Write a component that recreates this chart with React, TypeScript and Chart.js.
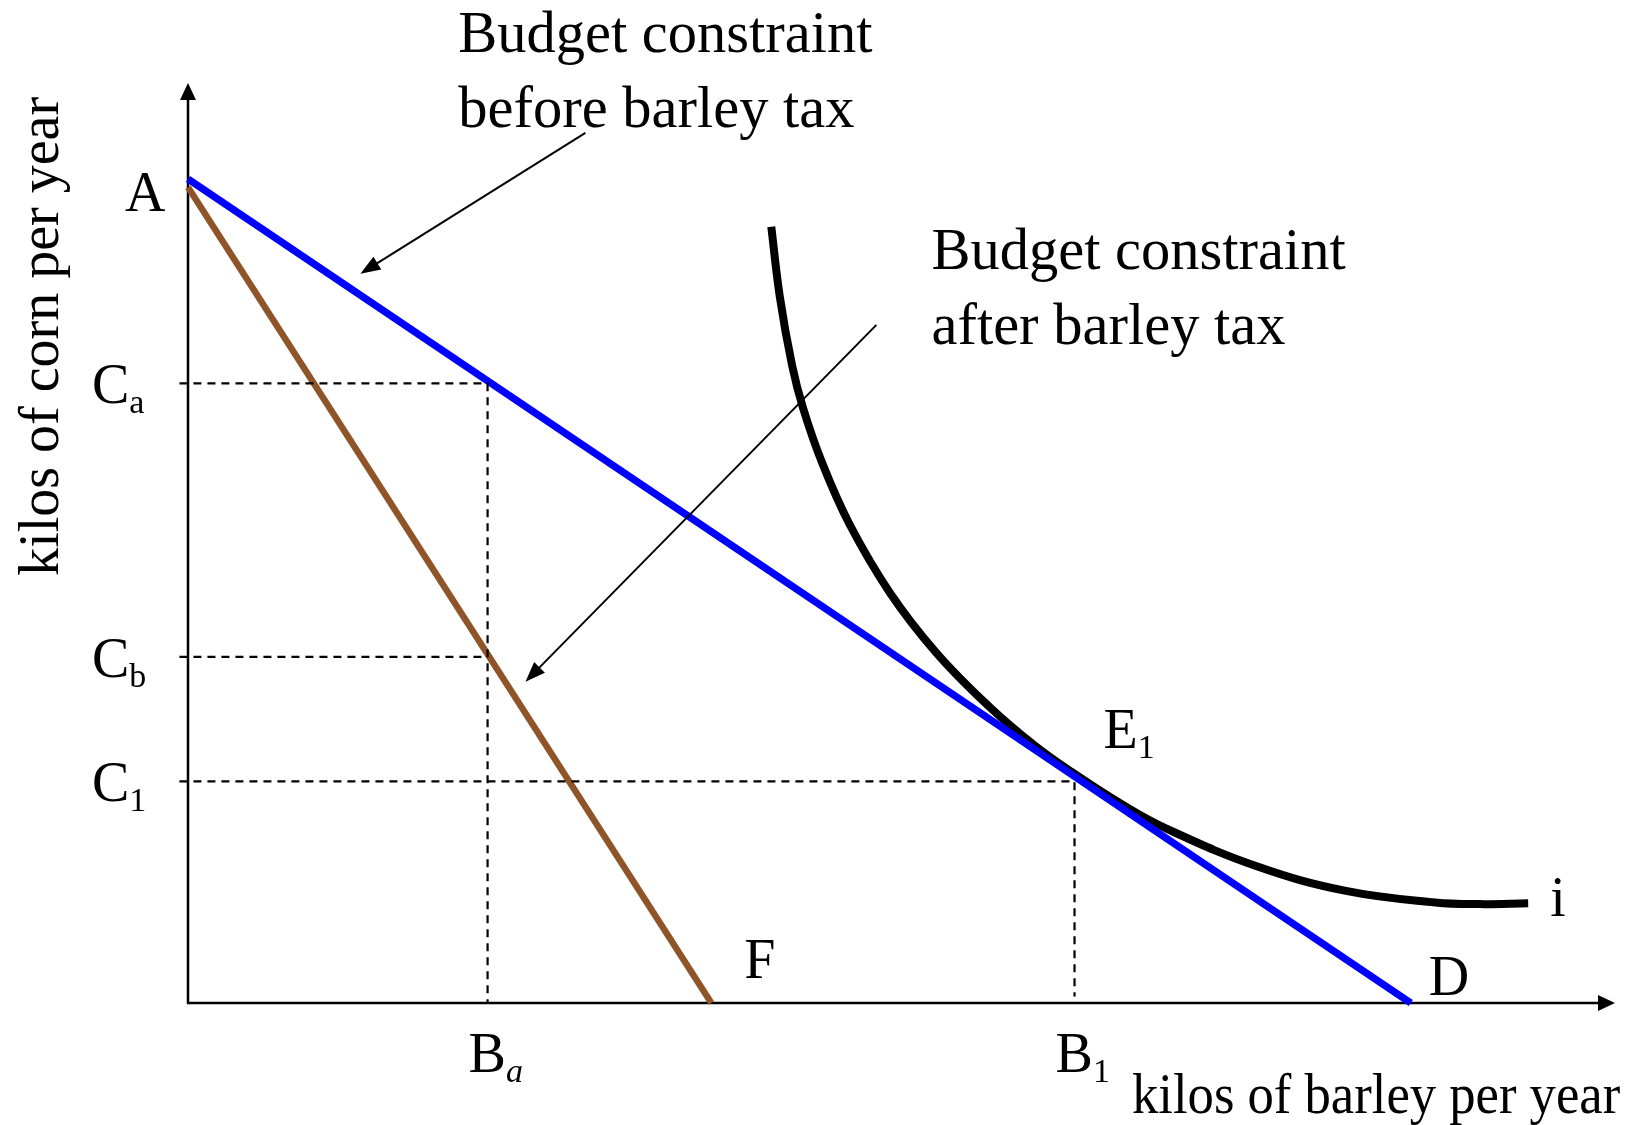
import React, { useEffect, useRef } from 'react';
import { Chart, registerables } from 'chart.js';

Chart.register(...registerables);

// ---- data (kilos of barley on x, kilos of corn on y; A and D normalised to 100) ----
const budgetBeforeX = [0, 100];
const budgetBeforeY = [100, 0];
const budgetAfterX = [0, 42.8];
const budgetAfterY = [99, 0];
const curveX = [47.7, 48.4, 49.4, 50.3, 51.9, 54.1, 57.4, 61.2, 65.5, 69.2, 72.5, 76.5, 80.1, 87.4, 94.7, 102.0, 105.6, 109.6];
const curveY = [94.2, 85.7, 77.4, 72.2, 65.4, 58.1, 49.8, 42.5, 36.0, 31.3, 27.8, 24.0, 21.1, 16.6, 13.6, 12.2, 12.0, 12.1];

const cornTickMain = ['C', 'C', 'C'];
const cornTickSub = ['a', 'b', '1'];
const cornTickValues = [75.2, 42.0, 26.9];
const barleyTickMain = ['B', 'B'];
const barleyTickSub = ['a', '1'];
const barleyTickValues = [24.5, 72.5];

const X_MAX = 116.7;
const Y_MAX = 111.65;

const SERIF = '"Liberation Serif", "Times New Roman", serif';

function pts(xs: number[], ys: number[]) {
  return xs.map((x, i) => ({ x, y: ys[i] }));
}

function arrowHead(ctx: CanvasRenderingContext2D, tx: number, ty: number, fx: number, fy: number, len: number, half: number) {
  const a = Math.atan2(ty - fy, tx - fx);
  ctx.beginPath();
  ctx.moveTo(tx, ty);
  ctx.lineTo(tx - len * Math.cos(a) + half * Math.sin(a), ty - len * Math.sin(a) - half * Math.cos(a));
  ctx.lineTo(tx - len * Math.cos(a) - half * Math.sin(a), ty - len * Math.sin(a) + half * Math.cos(a));
  ctx.closePath();
  ctx.fill();
}

function subText(ctx: CanvasRenderingContext2D, main: string, sub: string, x: number, base: number, size: number, subSize: number, italicSub = false) {
  ctx.font = `${size}px ${SERIF}`;
  ctx.textAlign = 'left';
  ctx.textBaseline = 'alphabetic';
  ctx.fillText(main, x, base);
  const w = ctx.measureText(main).width;
  if (sub) {
    ctx.font = `${italicSub ? 'italic ' : ''}${subSize}px ${SERIF}`;
    ctx.fillText(sub, x + w, base + 10);
  }
}

function scaledText(ctx: CanvasRenderingContext2D, text: string, x: number, base: number, size: number, sx: number) {
  ctx.save();
  ctx.font = `${size}px ${SERIF}`;
  ctx.textAlign = 'left';
  ctx.textBaseline = 'alphabetic';
  ctx.translate(x, base);
  ctx.scale(sx, 1);
  ctx.fillText(text, 0, 0);
  ctx.restore();
}

const overlay = {
  id: 'overlay',
  beforeDatasetsDraw(chart: any) {
    const { ctx } = chart;
    const xs = chart.scales.x;
    const ys = chart.scales.y;
    const x0 = xs.getPixelForValue(0);
    const y0 = ys.getPixelForValue(0);
    const xEnd = xs.getPixelForValue(X_MAX);
    const yEnd = ys.getPixelForValue(Y_MAX);
    ctx.save();
    ctx.strokeStyle = '#000';
    ctx.fillStyle = '#000';
    ctx.lineWidth = 2.5;
    ctx.beginPath();
    ctx.moveTo(x0, y0);
    ctx.lineTo(x0, yEnd + 14);
    ctx.moveTo(x0 - 1.2, y0);
    ctx.lineTo(xEnd - 14, y0);
    ctx.stroke();
    arrowHead(ctx, x0, yEnd, x0, y0, 17, 8);
    arrowHead(ctx, xEnd, y0, x0, y0, 17, 8);
    ctx.restore();
  },
  afterDraw(chart: any) {
    const { ctx } = chart;
    const xs = chart.scales.x;
    const ys = chart.scales.y;
    const px = (v: number) => xs.getPixelForValue(v);
    const py = (v: number) => ys.getPixelForValue(v);
    const x0 = px(0);
    const y0 = py(0);
    ctx.save();
    ctx.fillStyle = '#000';
    ctx.strokeStyle = '#000';

    // corn ticks
    cornTickValues.forEach((v, i) => {
      subText(ctx, cornTickMain[i], cornTickSub[i], x0 - 96, py(v) + 20, 56, 34);
    });
    // barley ticks
    barleyTickValues.forEach((v, i) => {
      subText(ctx, barleyTickMain[i], barleyTickSub[i], px(v) - 19, y0 + 69, 56, 34, i === 0);
    });

    // point labels
    subText(ctx, 'A', '', x0 - 63, py(100) + 32, 56, 34);
    subText(ctx, 'E', '1', px(72.5) + 29, py(27.5) - 28, 56, 34);
    subText(ctx, 'F', '', px(42.8) + 33, y0 - 25, 56, 34);
    subText(ctx, 'D', '', px(100) + 18, y0 - 8, 56, 34);
    subText(ctx, 'i', '', px(109.6) + 22, py(12.1) + 13, 56, 34);

    // axis titles
    scaledText(ctx, 'kilos of barley per year', x0 + 944, y0 + 110, 56, 0.94);
    ctx.save();
    ctx.font = `56px ${SERIF}`;
    ctx.textBaseline = 'alphabetic';
    ctx.translate(x0 - 130, py(80.9));
    ctx.rotate(-Math.PI / 2);
    ctx.textAlign = 'center';
    ctx.fillText('kilos of corn per year', 0, 0);
    ctx.restore();

    // annotations
    scaledText(ctx, 'Budget constraint', px(22.1), py(115.4), 60, 0.975);
    scaledText(ctx, 'before barley tax', px(22.1), py(106.3), 60, 0.975);
    scaledText(ctx, 'Budget constraint', px(60.8), py(89.1), 60, 0.975);
    scaledText(ctx, 'after barley tax', px(60.8), py(80.0), 60, 0.975);

    // arrows
    ctx.lineWidth = 2;
    const arrows = [
      [32.5, 105.6, 14.1, 88.5],
      [56.3, 82.3, 27.6, 39.0],
    ];
    arrows.forEach(([fx, fy, tx, ty]) => {
      const X1 = px(fx), Y1 = py(fy), X2 = px(tx), Y2 = py(ty);
      const a = Math.atan2(Y2 - Y1, X2 - X1);
      ctx.beginPath();
      ctx.moveTo(X1, Y1);
      ctx.lineTo(X2 - 12 * Math.cos(a), Y2 - 12 * Math.sin(a));
      ctx.stroke();
      arrowHead(ctx, X2, Y2, X1, Y1, 20, 7.5);
    });
    ctx.restore();
  },
};

export default function App() {
  const canvasRef = useRef<HTMLCanvasElement | null>(null);

  useEffect(() => {
    if (!canvasRef.current) return;
    const dash = {
      borderColor: '#000',
      borderWidth: 2.2,
      borderDash: [8, 6],
      pointRadius: 0,
      tension: 0,
      clip: false as any,
      fill: false,
    };
    const chart = new Chart(canvasRef.current, {
      type: 'line',
      data: {
        datasets: [
          {
            ...dash,
            label: 'Ca guide',
            data: [
              { x: -0.7, y: cornTickValues[0] },
              { x: barleyTickValues[0], y: cornTickValues[0] },
              { x: barleyTickValues[0], y: 0 },
            ],
          },
          {
            ...dash,
            label: 'Cb guide',
            data: [
              { x: -0.7, y: cornTickValues[1] },
              { x: barleyTickValues[0], y: cornTickValues[1] },
            ],
          },
          {
            ...dash,
            label: 'C1 guide',
            data: [
              { x: -0.7, y: cornTickValues[2] },
              { x: barleyTickValues[1], y: cornTickValues[2] },
              { x: barleyTickValues[1], y: 0.8 },
            ],
          },
          {
            label: 'Budget constraint after barley tax',
            data: pts(budgetAfterX, budgetAfterY),
            borderColor: '#8f5428',
            borderWidth: 6.5,
            pointRadius: 0,
            tension: 0,
            clip: false as any,
          },
          {
            label: 'Budget constraint before barley tax',
            data: pts(budgetBeforeX, budgetBeforeY),
            borderColor: '#0000ff',
            borderWidth: 7.5,
            pointRadius: 0,
            tension: 0,
            clip: false as any,
          },
          {
            label: 'Indifference curve i',
            data: pts(curveX, curveY),
            borderColor: '#000',
            borderWidth: 8,
            pointRadius: 0,
            tension: 0.4,
            clip: false as any,
          },
        ],
      },
      options: {
        animation: false,
        responsive: true,
        maintainAspectRatio: false,
        layout: { padding: { left: 188, top: 83, right: 18, bottom: 122 } },
        plugins: { legend: { display: false }, tooltip: { enabled: false } },
        events: [],
        scales: {
          x: { type: 'linear', min: 0, max: X_MAX, display: false },
          y: { type: 'linear', min: 0, max: Y_MAX, display: false },
        },
      },
      plugins: [overlay],
    });
    return () => chart.destroy();
  }, []);

  return (
    <div style={{ position: 'fixed', left: 0, top: 0, width: '1633px', height: '1125px', background: '#fff' }}>
      <canvas ref={canvasRef} />
    </div>
  );
}
